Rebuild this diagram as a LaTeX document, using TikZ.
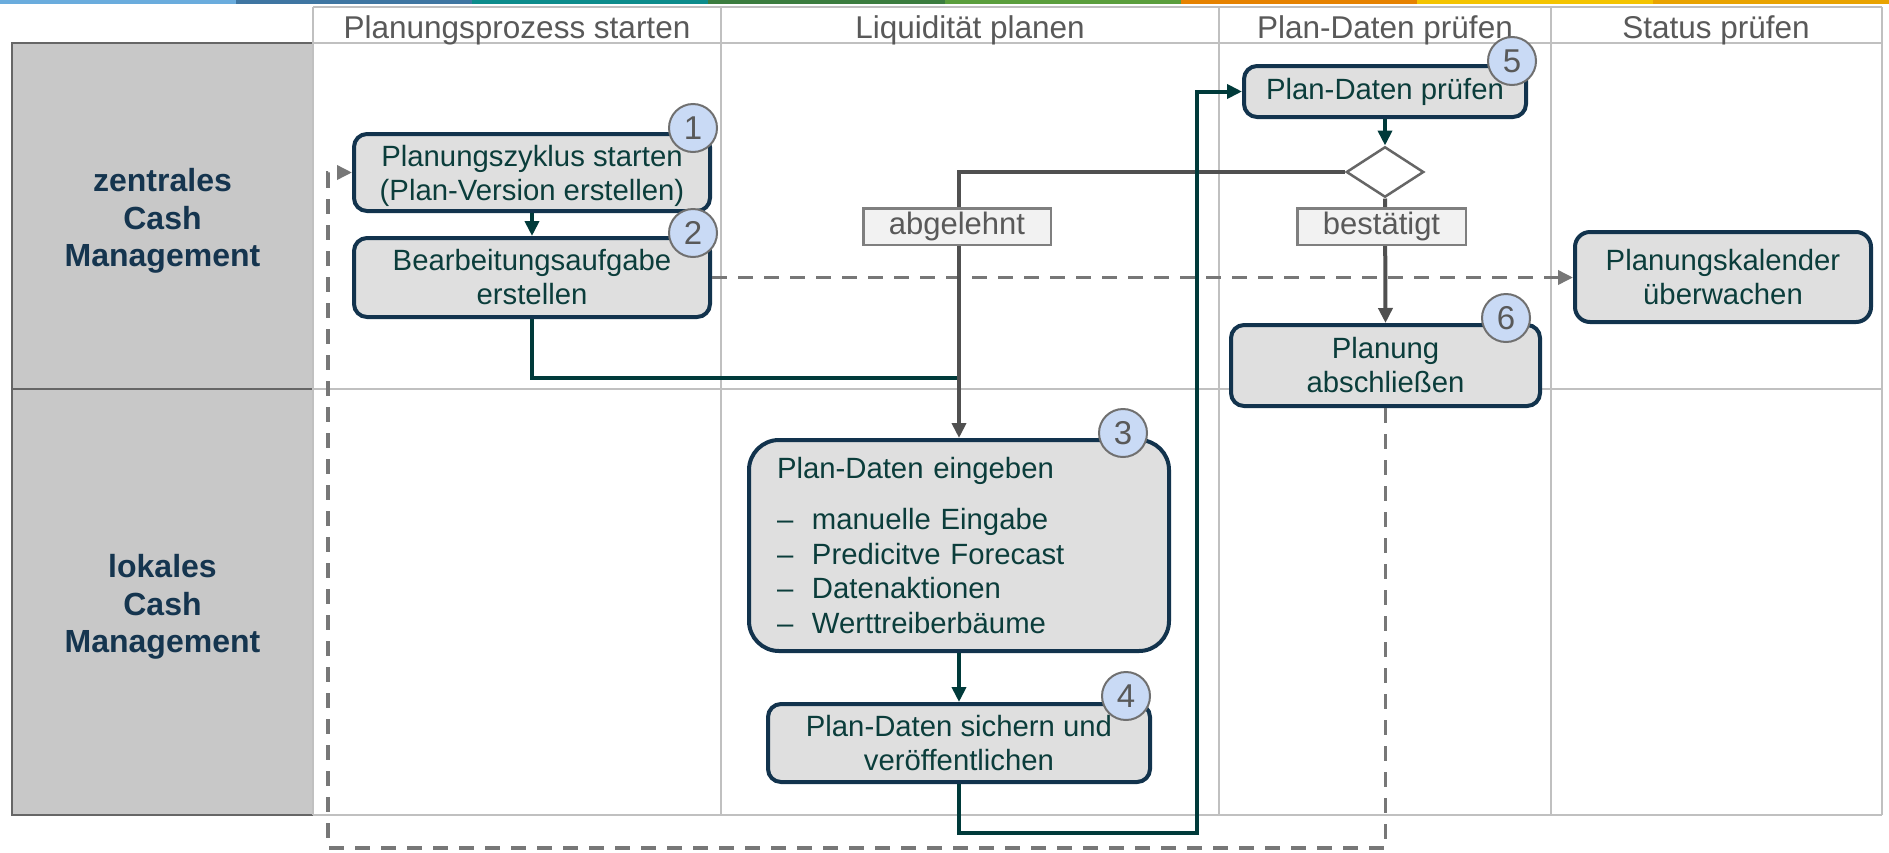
\documentclass[tikz,border=0pt]{standalone}
\usepackage{fontspec}
\setmainfont{Liberation Sans}
\usetikzlibrary{arrows.meta,shapes.geometric}
\definecolor{navy}{HTML}{12334D}
\definecolor{boxfill}{HTML}{DFDFDF}
\definecolor{boxtext}{HTML}{0B3D3B}
\definecolor{darkline}{HTML}{003A3A}
\definecolor{grayline}{HTML}{505050}
\definecolor{dashgray}{HTML}{777777}
\definecolor{badgefill}{HTML}{C9DAF5}
\definecolor{badgeline}{HTML}{707070}
\definecolor{badgetext}{HTML}{595959}
\definecolor{gridgray}{HTML}{C0C0C0}
\definecolor{lanefill}{HTML}{C8C8C8}
\definecolor{laneline}{HTML}{666666}
\definecolor{lanetext}{HTML}{15354F}
\definecolor{headtext}{HTML}{595959}
\definecolor{labfill}{HTML}{F2F2F2}
\definecolor{labline}{HTML}{7F7F7F}
\definecolor{barA}{HTML}{6AACDD}
\definecolor{barB}{HTML}{3F76A2}
\definecolor{barC}{HTML}{0C8C8C}
\definecolor{barD}{HTML}{3B7D3F}
\definecolor{barE}{HTML}{5A9E3C}
\definecolor{barF}{HTML}{E68200}
\definecolor{barG}{HTML}{F4C400}
\definecolor{barH}{HTML}{E9A300}
\newcommand\myitem[1]{\makebox[35pt][l]{–}#1}
\newcommand\nodepth[1]{\raisebox{0pt}[\height][0pt]{#1}}
\begin{document}
\begin{tikzpicture}[x=1pt,y=-1pt,
  proc/.style={rectangle, rounded corners=13pt, draw=navy, line width=4pt, fill=boxfill,
    text=boxtext, font=\fontsize{29.3}{34}\selectfont, align=center, inner sep=0pt},
  badge/.style={circle, draw=badgeline, line width=2pt, fill=badgefill, text=badgetext,
    minimum size=48pt, inner sep=0pt, font=\fontsize{33}{33}\selectfont},
  decision/.style={diamond, draw=laneline, line width=2.5pt, fill=white,
    minimum width=77.5pt, minimum height=50.5pt, inner sep=0pt},
  lab/.style={rectangle, draw=labline, line width=2.5pt, fill=labfill, text=headtext,
    font=\fontsize{31}{31}\selectfont, minimum height=36.5pt, inner sep=0pt},
  head/.style={text=headtext, font=\fontsize{31.5}{31.5}\selectfont, anchor=base, inner sep=0pt},
  lanelab/.style={text=lanetext, font=\fontsize{32}{37.5}\selectfont\bfseries, align=center},
  tipA/.style={-{Triangle[length=15pt,width=14pt]}},
  flowdark/.style={draw=darkline, line width=4pt, tipA},
  flowgray/.style={draw=grayline, line width=4pt, tipA},
  flowdash/.style={draw=dashgray, line width=3.5pt, dash pattern=on 15pt off 11pt, tipA},
  gridline/.style={draw=gridgray, line width=2pt}
]
\useasboundingbox (0,0) rectangle (1889,852);
\fill[white] (0,0) rectangle (1889,852);
% top colour bar
\fill[barA] (0,0) rectangle (236.2,4);
\fill[barB] (236.1,0) rectangle (472.3,4);
\fill[barC] (472.2,0) rectangle (708.4,4);
\fill[barD] (708.3,0) rectangle (944.6,4);
\fill[barE] (944.5,0) rectangle (1180.7,4);
\fill[barF] (1180.6,0) rectangle (1416.8,4);
\fill[barG] (1416.7,0) rectangle (1653,4);
\fill[barH] (1652.9,0) rectangle (1889,4);
% lane label boxes
\fill[lanefill] (12,43) rectangle (313,815);
\draw[laneline, line width=2.5pt] (313,43) -- (12,43) -- (12,815) -- (313,815);
\draw[laneline, line width=2.5pt] (12,389) -- (313,389);
% grid
\draw[gridline] (313,7) -- (1882,7);
\draw[gridline] (313,43) -- (1882,43);
\draw[gridline] (313,389) -- (1882,389);
\draw[gridline] (313,815) -- (1882,815);
\foreach \gx in {313,721,1219,1551,1882} { \draw[gridline] (\gx,7) -- (\gx,815); }
% headers
\node[head] (h1) at (517,38) {Planungsprozess starten};
\node[head] (h2) at (970,38) {Liquidität planen};
\node[head] (h3) at (1385,38) {Plan-Daten prüfen};
\node[head] (h4) at (1716,38) {Status prüfen};
% lane labels
\node[lanelab] (lane1) at (162.5,221) {zentrales\\Cash\\Management};
\node[lanelab] (lane2) at (162.5,607) {lokales\\Cash\\Management};
% process boxes
\node[proc, minimum width=356pt, minimum height=77pt] (p1) at (532,172.5) {Planungszyklus starten\\\nodepth{(Plan-Version erstellen)}};
\node[proc, minimum width=356pt, minimum height=79pt] (p2) at (532,277.5) {Bearbeitungsaufgabe\\erstellen};
\node[proc, rounded corners=30pt, minimum width=420pt, minimum height=211pt, align=left, text width=364pt,
  font=\fontsize{29.3}{34.5}\selectfont] (p3) at (959,545.5)
  {Plan-Daten eingeben\\[17pt]\myitem{manuelle Eingabe}\\\myitem{Predicitve Forecast}\\\myitem{Datenaktionen}\\\myitem{Werttreiberbäume}};
\node[proc, minimum width=382pt, minimum height=78pt] (p4) at (959,743) {Plan-Daten sichern und\\veröffentlichen};
\node[proc, minimum width=282pt, minimum height=51pt] (p5) at (1385,91.5) {Plan-Daten prüfen};
\node[proc, minimum width=309pt, minimum height=81pt] (p6) at (1385.5,365.5) {Planung\\abschließen};
\node[proc, rounded corners=15pt, minimum width=296pt, minimum height=90pt] (p7) at (1723,277) {Planungskalender\\überwachen};
\node[decision] (d) at (1385,172) {};
% helper coordinates
\coordinate (j1) at (959,378);
\coordinate (c1) at (1197,833);
\coordinate (c2) at (328,848);
% connectors
\draw[flowdash] (p2.east) -- (p2.east -| p7.west);
\draw[flowdash] (p6.south) |- (c2) |- (p1.west);
\draw[draw=darkline, line width=4pt] (p2.south) |- (j1);
\draw[flowgray] (d.west) -| (p3.north);
\draw[flowgray] (d.south) -- (p6.north);
\draw[flowdark] (p1.south) -- (p2.north);
\draw[flowdark] (p5.south) -- (d.north);
\draw[flowdark] (p3.south) -- (p4.north);
\draw[flowdark] (p4.south) |- (c1) |- (p5.west);
% decision labels
\node[lab, minimum width=187.5pt] (l1) at (957,226.5) {abgelehnt};
\node[lab, minimum width=168.5pt] (l2) at (1381.5,226.5) {bestätigt};
% badges
\node[badge] (b1) at (693,128) {1};
\node[badge] (b2) at (693,233) {2};
\node[badge] (b3) at (1123,433) {3};
\node[badge] (b4) at (1126,696) {4};
\node[badge] (b5) at (1512,61) {5};
\node[badge] (b6) at (1506,318) {6};
\end{tikzpicture}
\end{document}
